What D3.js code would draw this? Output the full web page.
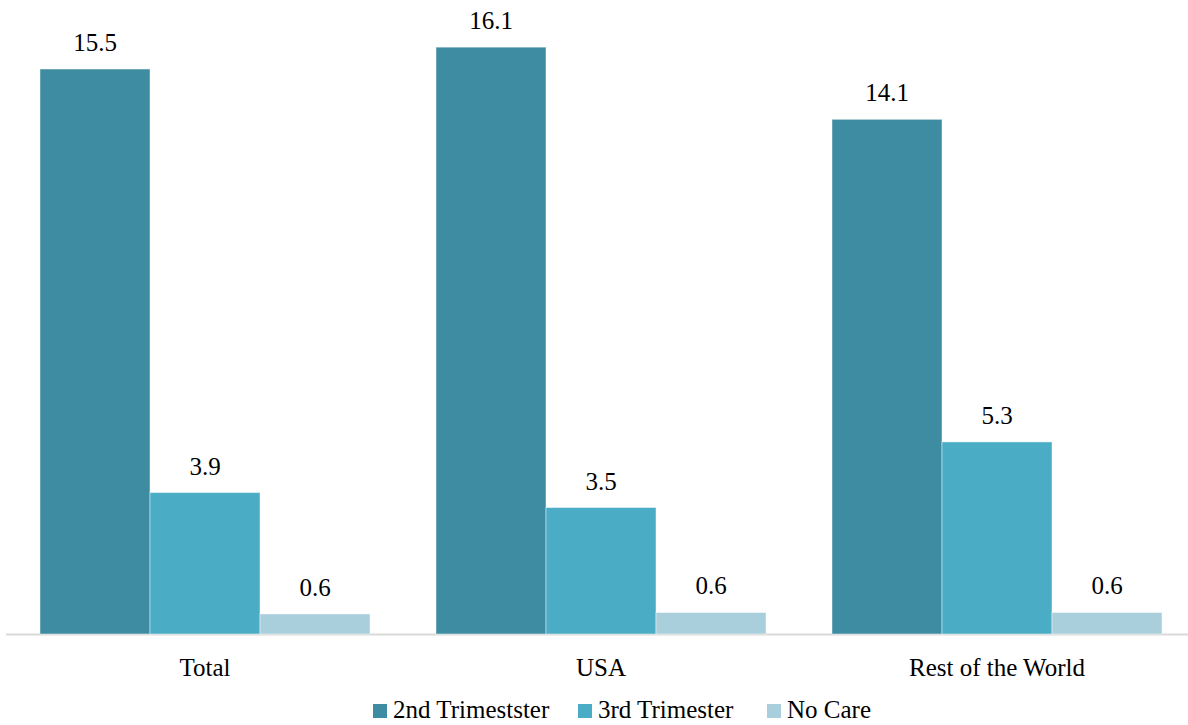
<!DOCTYPE html>
<html>
<head>
<meta charset="utf-8">
<script src="https://cdn.jsdelivr.net/npm/d3@7"></script>
<style>
  html, body { margin: 0; padding: 0; background: #fff; }
  svg { display: block; }
</style>
</head>
<body>
<svg id="chart" width="1188" height="725"></svg>
<script>
const categories = ["Total", "USA", "Rest of the World"];
const seriesNames = ["2nd Trimestster", "3rd Trimester", "No Care"];
const secondTrimester = [15.5, 16.1, 14.12];
const thirdTrimester = [3.88, 3.47, 5.27];
const noCare = [0.55, 0.59, 0.59];
const colors = ["#3d8ca2", "#4bacc6", "#a9cfdc"];

const FONT = "Liberation Serif";
const FS = 25;

const seriesValues = [secondTrimester, thirdTrimester, noCare];
const data = categories.map((c, i) => ({
  category: c,
  values: seriesNames.map((s, j) => ({ series: s, value: seriesValues[j][i], color: colors[j] }))
}));

const svg = d3.select("#chart");
const baseY = 634;
const y = d3.scaleLinear().domain([0, 17]).range([baseY, baseY - 17 * 36.45]);
const x0 = d3.scaleBand().domain(categories).range([7, 1195]).padding(0);
const x1 = d3.scaleBand().domain(seriesNames).range([33, 363]).padding(0);

// axis line
svg.append("line")
  .attr("x1", 6).attr("x2", 1188)
  .attr("y1", baseY + 0.5).attr("y2", baseY + 0.5)
  .attr("stroke", "#d9d9d9").attr("stroke-width", 2);

const groups = svg.append("g").selectAll("g")
  .data(data).join("g")
  .attr("transform", d => `translate(${x0(d.category)},0)`);

groups.selectAll("rect")
  .data(d => d.values).join("rect")
  .attr("x", d => x1(d.series))
  .attr("y", d => y(d.value))
  .attr("width", x1.bandwidth())
  .attr("height", d => baseY - y(d.value))
  .attr("fill", d => d.color)
  .attr("stroke", "rgba(255,255,255,0.45)")
  .attr("stroke-width", 1);

groups.selectAll("text.val")
  .data(d => d.values).join("text")
  .attr("class", "val")
  .attr("x", d => x1(d.series) + x1.bandwidth() / 2)
  .attr("y", d => y(d.value) - 18)
  .attr("text-anchor", "middle")
  .attr("font-family", FONT)
  .attr("font-size", FS)
  .attr("fill", "#000")
  .text(d => d3.format(".1f")(d.value));

// x axis labels
svg.append("g").selectAll("text")
  .data(categories).join("text")
  .attr("x", d => x0(d) + x0.bandwidth() / 2)
  .attr("y", 676)
  .attr("text-anchor", "middle")
  .attr("font-family", FONT)
  .attr("font-size", FS)
  .attr("fill", "#000")
  .text(d => d);

// legend
const legendX = [373, 578, 767];
const legend = svg.append("g").selectAll("g")
  .data(seriesNames).join("g")
  .attr("transform", (d, i) => `translate(${legendX[i]},0)`);
legend.append("rect")
  .attr("x", 0).attr("y", 704).attr("width", 14).attr("height", 14)
  .attr("fill", (d, i) => colors[i]);
legend.append("text")
  .attr("x", 20).attr("y", 718)
  .attr("font-family", FONT)
  .attr("font-size", FS)
  .attr("fill", "#000")
  .text(d => d);
</script>
</body>
</html>
